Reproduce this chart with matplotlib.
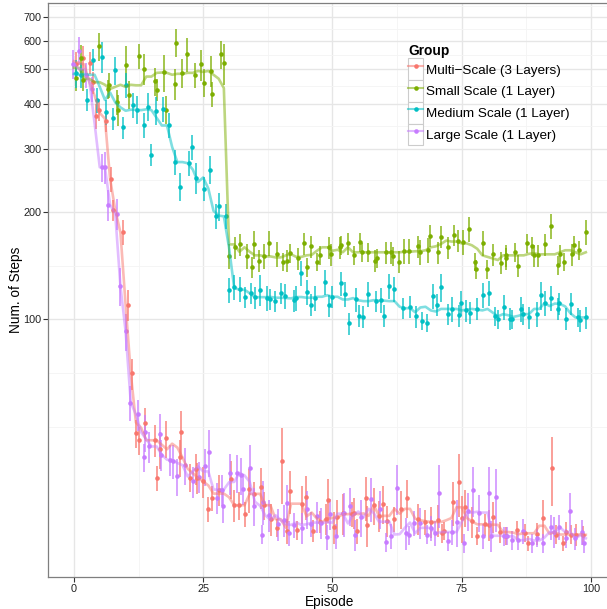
import matplotlib
matplotlib.use('Agg')
import matplotlib.pyplot as plt
from matplotlib.legend_handler import HandlerLine2D
from matplotlib.lines import Line2D
from matplotlib.patches import Rectangle
from matplotlib.ticker import NullFormatter
import matplotlib.colors as mcolors
import numpy as np

plt.rcParams['font.family'] = ['Liberation Sans', 'DejaVu Sans']

# legend order / colours (ggplot hue palette)
groups = ['Multi\u2212Scale (3 Layers)', 'Small Scale (1 Layer)',
          'Medium Scale (1 Layer)', 'Large Scale (1 Layer)']
colors = ['#F8766D', '#7CAE00', '#00BFC4', '#C77CFF']
# half width (episodes) of the running median drawn as the trend line
smooth_half = [2.5, 5, 4, 2.5]

# (episode, mean steps, relative error)
multi = [(0.4,515,.08),(1.8,537,.08),(3.1,520,.07),(3.7,459,.07),(4.2,369,.08),(4.9,385,.07),(6.3,358,.07),
         (7.2,247,.08),(7.6,202,.07),(9.4,175,.08),(10.4,110,.1),(11.2,70.7,.1),(12.1,48.2,.09),(12.6,46,.09),
         (13.7,51.5,.1),(15.6,46,.1),(16.1,36.2,.08),(16.6,43.4,.12),(17.8,46.6,.12),(20.5,41.2,.12),(20.8,48.4,.15),
         (22.4,36.2,.09),(23.6,38.3,.1),(23.9,36.1,.1),(25.0,35.3,.1),(25.9,29.6,.08),(26.8,31.8,.08),(28.1,33.5,.1),
         (30.3,35.9,.12),(31.0,30.3,.1),(32.0,30.3,.09),(33.0,28.6,.08),(33.8,33.6,.14),(34.9,32.6,.08),(36.1,34.0,.13),
         (36.8,30.3,.09),(38.2,27.7,.1),(39.2,26.2,.06),(40.3,40.2,.24),(41.3,25.7,.08),(41.8,33.2,.14),(43.2,25.8,.06),
         (44.2,30.6,.12),(44.9,32.0,.14),(46.3,25.7,.07),(47.6,27.2,.07),(48.7,27.8,.1),(49.2,31.4,.14),(50.3,26.3,.1),
         (50.9,28.0,.12),(52.0,28.8,.13),(53.7,28.6,.08),(54.1,28.9,.1),(54.7,25.7,.08),(56.4,31.8,.14),(56.7,26.7,.13),
         (58.0,30.3,.12),(59.0,28.3,.1),(59.8,30.6,.12),(60.6,27.4,.1),(61.9,27.8,.08),(63.2,29.6,.12),(64.5,31.8,.12),
         (66.6,27.8,.1),(67.9,27.2,.08),(69.0,27.2,.1),(70.4,27.5,.1),(71.1,25.3,.06),(71.6,25.7,.06),(73.4,30.9,.14),
         (74.4,35.2,.2),(75.0,27.9,.15),(75.7,29.9,.12),(77.0,27.3,.1),(78.0,24.9,.06),(79.5,26.8,.07),(80.2,26.7,.1),
         (81.0,28.1,.1),(82.4,25.5,.07),(83.6,24.9,.06),(85.6,25.8,.06),(87.2,25.4,.06),(87.8,23.7,.05),(89.5,25.2,.07),
         (90.8,27.9,.12),(92.4,38.6,.22),(93.2,25.1,.06),(94.5,23.7,.05),(95.2,25.5,.07),(96.2,25.1,.06),(97.2,25.1,.07),
         (98.4,25.0,.06)]

small = [(0.5,472,.08),(1.4,536,.09),(1.7,467,.07),(4.8,580,.09),(6.6,440,.06),(6.8,452,.08),(8.3,404,.08),
         (8.6,385,.1),(10.1,513,.13),(10.6,424,.09),(12.5,545,.08),(13.5,500,.1),(15.6,463,.09),(16.1,438,.07),
         (17.4,490,.12),(17.9,385,.09),(19.5,455,.1),(19.7,592,.09),(20.9,488,.09),(21.9,551,.11),(23.4,482,.08),
         (24.5,515,.1),(25.2,458,.09),(26.5,494,.1),(26.8,427,.08),(28.5,551,.09),(29.0,520,.13),
         (30.0,150,.08),(31.1,159,.07),(32.2,162,.07),(33.4,150,.08),(34.4,140,.07),(34.8,162,.09),(35.8,146,.07),
         (36.8,150,.08),(37.8,163,.08),(39.3,152,.08),(40.4,145,.06),(41.2,146,.07),(41.8,153,.06),(43.4,148,.07),
         (44.5,163,.07),(45.0,140,.06),(45.9,160,.07),(47.1,145,.06),(47.5,151,.06),(49.4,159,.07),(49.8,152,.07),
         (51.4,159,.07),(51.7,161,.06),(53.0,163,.07),(54.2,151,.06),(55.3,164,.06),(55.8,154,.06),(56.8,154,.06),
         (58.3,146,.07),(58.7,148,.06),(60.3,154,.07),(61.3,154,.07),(61.8,150,.06),(62.8,145,.07),(63.8,155,.08),
         (64.9,155,.08),(66.6,160,.07),(66.9,154,.08),(68.5,156,.08),(68.9,171,.07),(70.5,154,.07),(70.9,170,.07),
         (72.3,159,.07),(73.6,172,.07),(74.2,166,.07),(75.2,165,.08),(76.5,179,.08),(77.6,145,.06),(77.7,138,.06),
         (79.1,163,.08),(79.8,138,.06),(81.1,152,.07),(82.6,144,.07),(83.5,151,.07),(83.6,148,.07),(85.4,154,.06),
         (85.9,141,.07),(87.6,163,.06),(88.5,160,.06),(88.9,151,.07),(89.7,151,.07),(91.2,162,.07),(92.2,182,.08),
         (93.6,142,.06),(94.0,152,.06),(94.7,145,.06),(96.3,152,.07),(96.7,161,.06),(97.7,156,.06),(99.0,175,.08)]

medium = [(0.4,487,.09),(1.3,482,.08),(2.6,410,.07),(3.6,530,.07),(4.4,410,.08),(5.35,540,.1),(6.3,380,.08),
          (7.5,364,.07),(8.0,497,.09),(9.5,344,.07),(10.1,450,.08),(11.5,397,.08),(12.25,385,.09),(13.5,348,.08),
          (14.3,393,.09),(14.9,288,.07),(15.9,383,.09),(17.3,387,.08),(18.3,348,.08),(19.5,275,.08),(20.6,235,.09),
          (22.2,273,.08),(22.8,303,.08),(23.7,249,.1),(25.1,232,.08),(26.4,262,.09),(27.5,195,.08),(28.0,207,.09),
          (29.4,194,.08),
          (30.0,121,.08),(30.9,123.5,.08),(32.2,121.7,.08),(33.0,115.4,.07),(34.2,118.4,.07),(35.1,115.2,.07),
          (36.0,121,.1),(37.3,115,.08),(38.0,114,.07),(38.8,112.5,.07),(40.0,118.4,.07),(40.8,116,.08),(42.6,113,.07),
          (42.9,114.5,.08),(43.9,135,.08),(45.1,119,.08),(45.8,110,.07),(46.7,115,.08),(48.6,127,.08),(49.3,109.5,.07),
          (50.0,115.7,.07),(51.6,126,.08),(52.4,118,.08),(53.3,97.5,.07),(54.5,113.7,.08),(55.1,102.5,.07),
          (56.0,101.6,.07),(56.8,117.5,.08),(58.5,112.5,.07),(59.3,113.2,.08),(60.0,102.5,.07),(61.0,124.3,.08),
          (61.9,121.7,.08),(63.6,107.5,.07),(65.0,108.5,.07),(66.1,102,.07),(67.4,99.1,.06),(68.2,98,.06),
          (69.5,116,.08),(70.2,110,.07),(70.9,123,.09),(72.4,103.5,.07),(73.1,107,.08),(74.5,102.7,.07),
          (74.9,111.3,.08),(75.8,106,.07),(76.7,104.5,.07),(77.9,107,.07),(79.1,117,.08),(80.2,118.6,.08),
          (81.4,102,.06),(82.1,100,.06),(83.2,108.6,.08),(84.3,100.6,.07),(84.7,100,.06),(86.5,107,.08),
          (86.9,103.5,.07),(88.1,101.3,.07),(89.6,103.5,.08),(90.4,117,.09),(91.2,111,.08),(92.3,114.5,.08),
          (93.6,107,.07),(93.8,111,.07),(95.1,100.6,.07),(96.1,110.5,.07),(97.4,101.3,.06),(97.8,99.5,.07),
          (99.1,101.3,.07)]

large = [(-0.1,517,.09),(0.9,563,.09),(2.4,482,.08),(3.5,440,.08),(5.4,266,.09),(6.0,266,.1),(6.6,209,.1),
         (8.25,197,.1),(9.0,124,.12),(10.0,92.6,.12),(10.9,58.6,.11),(12.4,54.3,.1),(13.5,41.2,.09),(13.8,48.4,.12),
         (14.6,44.2,.1),(16.6,47.9,.14),(16.8,41.9,.1),(18.6,40.6,.1),(19.2,40.3,.11),(20.0,36.5,.12),(21.5,39.2,.12),
         (23.0,35.3,.1),(24.1,36.4,.1),(25.3,38.9,.12),(26.1,42.7,.15),(27.6,31.8,.1),(28.6,33.5,.1),(28.8,30.1,.1),
         (30.2,37.3,.13),(31.5,37.3,.12),(32.4,36.7,.12),(32.7,33.7,.1),(34.0,38.4,.16),(34.9,30.2,.12),(36.4,25.1,.06),
         (36.6,31.0,.14),(37.8,28.4,.1),(39.4,26.8,.1),(40.6,27.5,.1),(41.3,30.8,.12),(41.6,25.4,.08),(42.6,26.7,.08),
         (44.1,26.2,.1),(45.0,29.6,.12),(45.8,26.8,.08),(47.0,28.2,.1),(47.7,27.1,.1),(48.9,24.7,.08),(49.6,28.7,.1),
         (50.7,24.9,.08),(52.2,28.8,.14),(53.4,30.2,.12),(54.3,25.1,.1),(55.6,28.0,.12),(57.4,31.6,.14),(59.2,29.6,.12),
         (60.4,23.9,.06),(61.3,24.9,.08),(62.5,33.8,.16),(64.3,25.3,.1),(64.8,25.0,.06),(65.8,27.1,.08),(66.9,27.1,.1),
         (68.3,25.1,.06),(69.0,26.2,.08),(69.9,25.3,.08),(70.6,32.8,.2),(72.4,24.0,.06),(73.2,25.5,.08),(74.0,27.2,.15),
         (75.5,23.7,.06),(76.3,29.2,.12),(77.2,33.4,.16),(78.3,28.9,.12),(79.2,24.8,.08),(80.3,32.8,.18),(80.6,24.9,.1),
         (81.7,31.9,.2),(83.2,24.8,.06),(83.7,24.9,.06),(84.7,24.2,.06),(85.8,24.2,.06),(86.9,25.7,.08),(88.5,23.7,.06),
         (89.6,24.6,.06),(90.8,23.7,.06),(92.2,26.3,.08),(92.8,25.5,.1),(93.8,26.4,.08),(95.1,24.5,.06),(95.9,29.2,.12),
         (97.0,24.5,.07),(98.2,25.5,.08),(98.7,23.7,.06)]

series = [multi, small, medium, large]

x_ticks = [0, 25, 50, 75, 100]
y_ticks = [100, 200, 300, 400, 500, 600, 700]
y_tick_labels = ['100', '200', '300', '400', '500', '600', '700']


def running_median(x, y, half=3):
    eps = np.arange(0, 100)
    return eps, np.array([np.median(y[np.abs(x - e) <= half]) for e in eps])


class BoxedLine(HandlerLine2D):
    # ggplot style key: white box with grey border behind each key
    def create_artists(self, legend, orig_handle, xdescent, ydescent, width, height, fontsize, trans):
        arts = super().create_artists(legend, orig_handle, xdescent, ydescent, width, height, fontsize, trans)
        box = Rectangle((-xdescent, -ydescent), width, height, facecolor='white',
                        edgecolor='#CCCCCC', lw=0.8, transform=trans)
        return [box] + list(arts)


W, H = 607, 609
fig = plt.figure(figsize=(W / 100, H / 100), dpi=100)
ax = fig.add_axes([48.3 / W, 32 / H, 563.1 / W, 574.5 / H])
ax.set_yscale('log')

for data, c in zip(series, colors):
    x, y, f = (np.array(v, dtype=float) for v in zip(*data))
    ax.errorbar(x, y, yerr=y * f, fmt='none', ecolor=c, elinewidth=1.4, alpha=0.7, capsize=0, zorder=3)
for data, c in zip(series, colors):
    x, y, f = (np.array(v, dtype=float) for v in zip(*data))
    ax.plot(x, y, 'o', ms=3.3, color=c, mec='none', zorder=4)
for data, c, hw in zip(series, colors, smooth_half):
    x, y, f = (np.array(v, dtype=float) for v in zip(*data))
    ex, med = running_median(x, y, hw)
    ax.plot(ex, med, color=c, lw=1.9, alpha=0.5, zorder=5)

ax.set_xlim(-4.95, 103.95)
ax.set_ylim(19.1, 767)

ax.set_xticks(x_ticks)
ax.set_xticks([12.5, 37.5, 62.5, 87.5], minor=True)
ax.set_yticks(y_ticks)
ax.set_yticklabels(y_tick_labels)
# minor breaks sit half way (log space) between the majors
ax.set_yticks([50, 70.7, 141.4, 244.9, 346.4, 447.2, 547.7, 648.1, 748.3], minor=True)
ax.yaxis.set_minor_formatter(NullFormatter())
ax.grid(True, which='major', color='#E6E6E6', lw=1.0, zorder=0)
ax.grid(True, which='minor', color='#F4F4F4', lw=0.6, zorder=0)
ax.set_axisbelow(True)
ax.tick_params(which='major', length=3.5, width=0.8, color='#333333', labelsize=7.8,
               labelcolor='#222222', pad=1.5)
ax.tick_params(which='minor', length=0)
for s in ax.spines.values():
    s.set_color('#7F7F7F')
    s.set_linewidth(0.9)

ax.set_xlabel('Episode', fontsize=9.8, labelpad=1)
ax.set_ylabel('Num. of Steps', fontsize=9.8, labelpad=0.5)

handles = []
for c in colors:
    rgba = mcolors.to_rgba(c, 0.55)
    handles.append(Line2D([], [], color=rgba, lw=1.5, marker='o', ms=3.3,
                          markerfacecolor=c, markeredgecolor='none'))
leg = fig.legend(handles, groups, loc='upper left', bbox_to_anchor=(408.3 / W, 1 - 44.5 / H),
                 frameon=False, borderpad=0, borderaxespad=0, labelspacing=0,
                 handlelength=1.12, handleheight=2.1, handletextpad=0.18, numpoints=1,
                 fontsize=9.7, title='Group', title_fontproperties={'weight': 'bold', 'size': 9.9},
                 alignment='left', handler_map={Line2D: BoxedLine()})

fig.savefig('out.png', dpi=100)
